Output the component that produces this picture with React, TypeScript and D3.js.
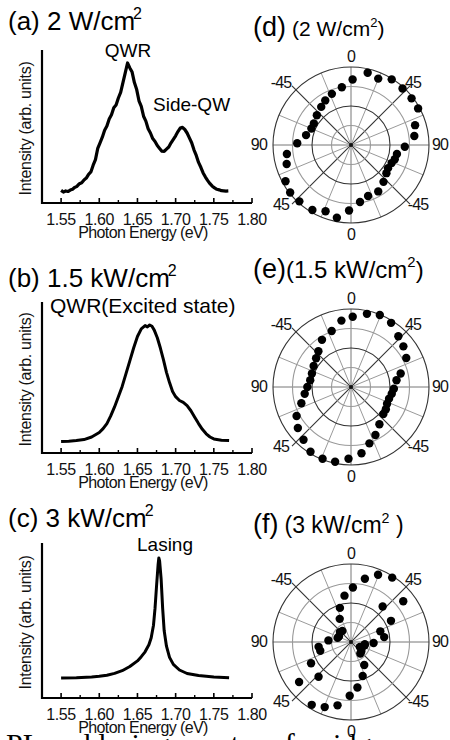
import React from "react";
import * as d3 from "d3";

// ---------- Spectra data: [photon energy (eV), normalised intensity] ----------
const energyTicks = [1.55, 1.6, 1.65, 1.7, 1.75, 1.8];
const energyMinorTicks = [1.525, 1.575, 1.625, 1.675, 1.725, 1.775];

const specA: [number, number][] = [
  [1.55, 0.09], [1.553, 0.078], [1.556, 0.086], [1.559, 0.082], [1.562, 0.092], [1.565, 0.098],
  [1.568, 0.112], [1.571, 0.12], [1.574, 0.138], [1.577, 0.145], [1.58, 0.165], [1.583, 0.178],
  [1.586, 0.205], [1.589, 0.222], [1.592, 0.27], [1.595, 0.31], [1.598, 0.39], [1.601, 0.43],
  [1.604, 0.47], [1.607, 0.52], [1.61, 0.55], [1.613, 0.6], [1.616, 0.63], [1.619, 0.68],
  [1.622, 0.7], [1.625, 0.75], [1.628, 0.79], [1.631, 0.86], [1.634, 0.93], [1.637, 1.0],
  [1.64, 0.965], [1.643, 0.935], [1.646, 0.86], [1.649, 0.81], [1.652, 0.73], [1.655, 0.69],
  [1.658, 0.62], [1.661, 0.585], [1.664, 0.53], [1.667, 0.5], [1.67, 0.46], [1.673, 0.44],
  [1.676, 0.41], [1.679, 0.39], [1.682, 0.37], [1.685, 0.368], [1.688, 0.385], [1.691, 0.4],
  [1.694, 0.43], [1.697, 0.455], [1.7, 0.48], [1.703, 0.51], [1.706, 0.535], [1.709, 0.54],
  [1.712, 0.525], [1.715, 0.5], [1.718, 0.465], [1.721, 0.43], [1.724, 0.38], [1.727, 0.34],
  [1.73, 0.29], [1.733, 0.255], [1.736, 0.215], [1.739, 0.185], [1.742, 0.16], [1.745, 0.138],
  [1.748, 0.12], [1.751, 0.108], [1.754, 0.098], [1.757, 0.094], [1.76, 0.088], [1.763, 0.087],
  [1.766, 0.085], [1.769, 0.086],
];

const specB: [number, number][] = [
  [1.55, 0.09], [1.56, 0.092], [1.57, 0.097], [1.58, 0.105], [1.59, 0.125], [1.6, 0.16],
  [1.605, 0.19], [1.61, 0.23], [1.615, 0.29], [1.62, 0.36], [1.625, 0.44], [1.63, 0.52],
  [1.635, 0.62], [1.64, 0.72], [1.645, 0.82], [1.65, 0.91], [1.655, 0.97], [1.66, 0.995],
  [1.663, 0.985], [1.666, 1.0], [1.669, 0.99], [1.672, 0.96], [1.676, 0.9], [1.68, 0.82],
  [1.684, 0.73], [1.688, 0.63], [1.692, 0.55], [1.696, 0.48], [1.7, 0.44], [1.705, 0.41],
  [1.71, 0.395], [1.715, 0.37], [1.72, 0.33], [1.725, 0.28], [1.73, 0.23], [1.735, 0.185],
  [1.74, 0.15], [1.745, 0.125], [1.75, 0.11], [1.76, 0.1], [1.77, 0.097],
];

const specC: [number, number][] = [
  [1.55, 0.143], [1.57, 0.145], [1.59, 0.15], [1.6, 0.155], [1.61, 0.163], [1.62, 0.176],
  [1.63, 0.195], [1.64, 0.225], [1.65, 0.265], [1.655, 0.295], [1.66, 0.33], [1.665, 0.38],
  [1.668, 0.43], [1.671, 0.52], [1.673, 0.64], [1.675, 0.8], [1.677, 0.95], [1.678, 1.0],
  [1.679, 0.98], [1.681, 0.85], [1.683, 0.64], [1.685, 0.48], [1.688, 0.37], [1.692, 0.29],
  [1.697, 0.24], [1.705, 0.2], [1.715, 0.175], [1.73, 0.16], [1.75, 0.15], [1.77, 0.145],
];

const specTitles = ["(a) 2 W/cm", "(b) 1.5 kW/cm", "(c) 3 kW/cm"];
const specPeakLabels = ["QWR", "QWR(Excited state)", "Lasing"];
const sideLabel = "Side-QW";

// ---------- Polar data: angle (deg, clockwise from top) and normalised intensity ----------
const polarAngleTicks = ["0", "45", "90", "-45", "0", "45", "90", "-45"];

const polarDAngle = [1.4, 13, 22.3, 31.8, 42.4, 52.4, 61.4, 72.8, 81.9, 91.8, 101, 108, 114, 122, 128.5, 138.6, 149.6, 161.5, 171, 181.7, 191, 201, 210.7, 222.5, 232, 241, 253.5, 262, 271.8, 282.4, 292.6, 300, 311, 322, 330, 339.5, 351];
const polarDValue = [0.84, 0.95, 0.92, 0.99, 0.98, 0.98, 0.98, 0.86, 0.82, 0.69, 0.6, 0.59, 0.57, 0.56, 0.58, 0.63, 0.69, 0.69, 0.74, 0.84, 0.95, 0.91, 0.97, 0.98, 0.99, 0.96, 0.86, 0.83, 0.69, 0.59, 0.55, 0.55, 0.58, 0.62, 0.66, 0.7, 0.75];

const polarEAngle = [1.4, 12.3, 21.8, 32, 43, 52.2, 62.3, 74.8, 81.5, 92.3, 99.5, 107, 115, 122.5, 129.8, 142.6, 153, 161.9, 171, 182, 192, 201.6, 212, 222, 232.4, 242, 251.8, 261.6, 270, 279.5, 289, 299.4, 309.5, 317.6, 328.4, 341, 351.8];
const polarEValue = [0.9, 0.96, 0.995, 0.97, 0.89, 0.85, 0.8, 0.66, 0.59, 0.55, 0.53, 0.51, 0.51, 0.53, 0.54, 0.6, 0.69, 0.76, 0.86, 0.92, 0.98, 0.99, 0.98, 0.91, 0.86, 0.79, 0.67, 0.6, 0.56, 0.53, 0.53, 0.55, 0.58, 0.62, 0.71, 0.76, 0.86];

const polarFAngle = [2, 12.4, 21.9, 32.6, 41.7, 52, 62.1, 70, 81.6, 92.5, 99.5, 103, 119, 121, 133, 141, 150, 161, 172, 181.4, 192, 202, 212, 223, 232.4, 242, 254, 261.5, 274, 287, 295, 312, 322, 334, 342, 352];
const polarFValue = [0.7, 0.83, 0.93, 0.98, 0.61, 0.85, 0.58, 0.4, 0.43, 0.29, 0.18, 0.18, 0.13, 0.16, 0.18, 0.19, 0.34, 0.46, 0.59, 0.69, 0.83, 0.9, 0.95, 0.61, 0.84, 0.58, 0.41, 0.42, 0.29, 0.18, 0.17, 0.19, 0.18, 0.33, 0.46, 0.6];

const polarTitleLetters = ["(d)", "(e)", "(f)"];
const polarTitleTexts = ["(2 W/cm", "(1.5 kW/cm", "(3 kW/cm"];
const polarTitleEnds = [")", ")", " )"];

const captionText = "PL and lasing spectra of a ridge-";

const FONT = "Liberation Sans, Arial, Helvetica, sans-serif";

type SpecProps = {
  data: [number, number][];
  top: number;
  axisY: number;
  peakY: number;
  title: string;
  titleY: number;
  peakLabel: string;
  peakLabelX: number;
  peakLabelY: number;
  peakAnchor: "middle" | "start";
  peakFont: number;
  strokeW: number;
  extra?: React.ReactNode;
};

const xScale = d3.scaleLinear().domain([1.525, 1.8]).range([42, 252]);

function Spectrum(p: SpecProps) {
  const y = d3.scaleLinear().domain([0, 1]).range([p.axisY, p.peakY]);
  const line = d3
    .line<[number, number]>()
    .x((d) => xScale(d[0]))
    .y((d) => y(d[1]))
    .curve(d3.curveLinear);
  const x0 = xScale.range()[0];
  const x1 = xScale.range()[1];
  return (
    <g>
      <text x={8} y={p.titleY} fontFamily={FONT} fontSize={26} fill="#000">
        {p.title}
        <tspan fontSize={16} dy={-11} dx={-2}>2</tspan>
      </text>
      <text
        x={p.peakLabelX}
        y={p.peakLabelY}
        fontFamily={FONT}
        fontSize={p.peakFont}
        textAnchor={p.peakAnchor}
        fill="#000"
      >
        {p.peakLabel}
      </text>
      {p.extra}
      <line x1={x0} x2={x0} y1={p.top} y2={p.axisY + 1} stroke="#000" strokeWidth={2.2} />
      <line x1={x0 - 1} x2={x1} y1={p.axisY} y2={p.axisY} stroke="#000" strokeWidth={2.2} />
      {energyTicks.map((t) => (
        <line key={"M" + t} x1={xScale(t)} x2={xScale(t)} y1={p.axisY} y2={p.axisY - 5} stroke="#000" strokeWidth={1.6} />
      ))}
      {energyMinorTicks.map((t) => (
        <line key={"m" + t} x1={xScale(t)} x2={xScale(t)} y1={p.axisY} y2={p.axisY - 3} stroke="#000" strokeWidth={1.4} />
      ))}
      {energyTicks.map((t) => (
        <text key={"L" + t} x={xScale(t)} y={p.axisY + 22} textAnchor="middle" fontFamily={FONT} fontSize={16} letterSpacing={-0.4} fill="#111">
          {t.toFixed(2)}
        </text>
      ))}
      <text x={(x0 + x1) / 2 - 4} y={p.axisY + 35} textAnchor="middle" fontFamily={FONT} fontSize={16} letterSpacing={-0.6} fill="#111">
        Photon Energy (eV)
      </text>
      <text
        transform={`translate(31,${(p.top + p.axisY) / 2 + 2}) rotate(-90)`}
        textAnchor="middle"
        fontFamily={FONT}
        fontSize={16}
        letterSpacing={-0.3}
        fill="#111"
      >
        Intensity (arb. units)
      </text>
      <path d={line(p.data) || ""} fill="none" stroke="#000" strokeWidth={p.strokeW} strokeLinejoin="round" />
    </g>
  );
}

type PolarProps = {
  cy: number;
  angles: number[];
  values: number[];
  letter: string;
  text: string;
  end: string;
  titleY: number;
  subFont: number;
  gap: number;
};

const CX = 351;
const R = 78;

function Polar(p: PolarProps) {
  const r = d3.scaleLinear().domain([0, 1]).range([0, R]);
  const rings = [0.25, 0.5, 0.75, 1];
  const spokes = d3.range(0, 180, 22.5);
  const pos = (deg: number, v: number) => d3.pointRadial((deg * Math.PI) / 180, r(v));
  const labelAngles = [0, 45, 90, 135, 180, 225, 270, 315];
  const labelDx = [0, 62, 81, 67, 0, -70, -84, -70];
  const labelDy = [-83, -57, 5, 65, 95, 65, 5, -57];
  return (
    <g>
      <text x={253} y={p.titleY} fontFamily={FONT} fill="#000">
        <tspan fontSize={27}>{p.letter}</tspan>
        <tspan fontSize={p.subFont} dx={p.gap}>{p.text}</tspan>
        <tspan fontSize={p.subFont * 0.62} dy={-p.subFont * 0.45}>2</tspan>
        <tspan fontSize={p.subFont} dy={p.subFont * 0.45}>{p.end}</tspan>
      </text>
      <g transform={`translate(${CX},${p.cy})`}>
        {spokes.map((a) => {
          const isDiag = a === 45 || a === 135;
          const isAxis = a === 0 || a === 90;
          const ext = isDiag ? 1.07 : 1;
          const [xa, ya] = pos(a, ext);
          const [xb, yb] = pos(a + 180, ext);
          return (
            <line
              key={a}
              x1={xa}
              y1={ya}
              x2={xb}
              y2={yb}
              stroke={isDiag ? "#333" : isAxis ? "#777" : "#9a9a9a"}
              strokeWidth={isDiag ? 1.1 : 1}
            />
          );
        })}
        {rings.map((v, i) => (
          <circle key={v} r={r(v)} fill="none" stroke={i % 2 === 1 ? "#333" : "#999"} strokeWidth={1.1} />
        ))}
        <circle r={2} fill="#111" />
        {p.angles.map((a, i) => {
          const [px, py] = pos(a, p.values[i]);
          return <circle key={i} cx={px} cy={py} r={4.2} fill="#000" />;
        })}
        {labelAngles.map((a, i) => (
          <text
            key={a}
            x={labelDx[i]}
            y={labelDy[i]}
            textAnchor={a === 90 ? "start" : a === 270 ? "end" : "middle"}
            fontFamily={FONT}
            fontSize={16}
            letterSpacing={-0.8}
            fill="#111"
          >
            {polarAngleTicks[i]}
          </text>
        ))}
      </g>
    </g>
  );
}

export default function App() {
  return (
    <svg
      width={450}
      height={740}
      viewBox="0 0 450 740"
      style={{ position: "absolute", left: 0, top: 0, background: "#fff" }}
    >
      <rect width={450} height={740} fill="#fff" />
      <Spectrum
        data={specA}
        top={50}
        axisY={203}
        peakY={63}
        title={specTitles[0]}
        titleY={30}
        peakLabel={specPeakLabels[0]}
        peakLabelX={128}
        peakLabelY={57}
        peakAnchor="middle"
        peakFont={19}
        strokeW={3.2}
        extra={
          <text x={153} y={111} fontFamily={FONT} fontSize={19} fill="#000">
            {sideLabel}
          </text>
        }
      />
      <Spectrum
        data={specB}
        top={302}
        axisY={453}
        peakY={325}
        title={specTitles[1]}
        titleY={287}
        peakLabel={specPeakLabels[1]}
        peakLabelX={50}
        peakLabelY={313}
        peakAnchor="start"
        peakFont={21}
        strokeW={3}
      />
      <Spectrum
        data={specC}
        top={543}
        axisY={698}
        peakY={558}
        title={specTitles[2]}
        titleY={527}
        peakLabel={specPeakLabels[2]}
        peakLabelX={165}
        peakLabelY={551}
        peakAnchor="middle"
        peakFont={19}
        strokeW={3}
      />
      <Polar cy={145} angles={polarDAngle} values={polarDValue} letter={polarTitleLetters[0]} text={polarTitleTexts[0]} end={polarTitleEnds[0]} titleY={36} subFont={21} gap={6} />
      <Polar cy={387} angles={polarEAngle} values={polarEValue} letter={polarTitleLetters[1]} text={polarTitleTexts[1]} end={polarTitleEnds[1]} titleY={278} subFont={24} gap={0} />
      <Polar cy={642} angles={polarFAngle} values={polarFValue} letter={polarTitleLetters[2]} text={polarTitleTexts[2]} end={polarTitleEnds[2]} titleY={533} subFont={23} gap={6} />
      <text x={6} y={754} fontFamily="Liberation Serif, Times New Roman, serif" fontSize={30} fill="#000">
        {captionText}
      </text>
    </svg>
  );
}
